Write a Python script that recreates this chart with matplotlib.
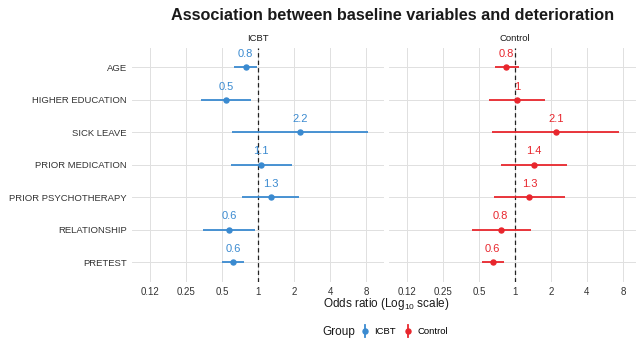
import matplotlib
matplotlib.use("Agg")
import matplotlib.pyplot as plt
import numpy as np
from matplotlib.legend_handler import HandlerBase

plt.rcParams['font.family'] = ['Liberation Sans', 'DejaVu Sans']
plt.rcParams['mathtext.fontset'] = 'custom'
plt.rcParams['mathtext.rm'] = 'Liberation Sans'
plt.rcParams['mathtext.it'] = 'Liberation Sans'
plt.rcParams['mathtext.bf'] = 'Liberation Sans:bold'

categories = ["AGE", "HIGHER EDUCATION", "SICK LEAVE", "PRIOR MEDICATION",
              "PRIOR PSYCHOTHERAPY", "RELATIONSHIP", "PRETEST"]

icbt_or = [0.79, 0.54, 2.26, 1.06, 1.28, 0.575, 0.62]
icbt_lo = [0.63, 0.335, 0.61, 0.59, 0.73, 0.35, 0.50]
icbt_hi = [0.98, 0.87, 8.3, 1.91, 2.21, 0.95, 0.77]
icbt_lab = ["0.8", "0.5", "2.2", "1.1", "1.3", "0.6", "0.6"]

ctrl_or = [0.84, 1.04, 2.19, 1.43, 1.32, 0.76, 0.65]
ctrl_lo = [0.68, 0.61, 0.64, 0.76, 0.67, 0.44, 0.53]
ctrl_hi = [1.07, 1.78, 7.45, 2.74, 2.62, 1.35, 0.81]
ctrl_lab = ["0.8", "1", "2.1", "1.4", "1.3", "0.8", "0.6"]

tick_vals = [0.125, 0.25, 0.5, 1, 2, 4, 8]
tick_labels = ["0.12", "0.25", "0.5", "1", "2", "4", "8"]

groups = ["ICBT", "Control"]
colors = {"ICBT": "#3a8ad0", "Control": "#e8262d"}

W, H = 636, 343
fig = plt.figure(figsize=(W / 100, H / 100), dpi=100)
fig.patch.set_facecolor("white")

pan_bottom = 1 - 281.5 / H
pan_h = 233.5 / H
lefts = [132 / W, 389 / W]
pan_w = 252 / W

data = {
    "ICBT": (icbt_or, icbt_lo, icbt_hi, icbt_lab),
    "Control": (ctrl_or, ctrl_lo, ctrl_hi, ctrl_lab),
}

y = np.arange(len(categories))
for i, g in enumerate(groups):
    ax = fig.add_axes([lefts[i], pan_bottom, pan_w, pan_h])
    orv, lo, hi, lab = data[g]
    c = colors[g]
    ax.set_xscale("log", base=2)
    ax.set_xlim(2 ** -3.5, 2 ** 3.5)
    ax.set_ylim(len(categories) - 0.4, -0.6)
    ax.set_xticks(tick_vals)
    ax.set_xticklabels(tick_labels)
    ax.xaxis.set_minor_locator(matplotlib.ticker.NullLocator())
    ax.set_yticks(y)
    if i == 0:
        ax.set_yticklabels(categories)
    else:
        ax.set_yticklabels([])
    ax.tick_params(axis="both", length=0, labelsize=7, colors="#333333")
    ax.tick_params(axis="y", pad=3.6, labelsize=6.8)
    ax.tick_params(axis="x", pad=4)
    ax.grid(True, color="#e0e0e0", linewidth=0.7)
    ax.set_axisbelow(True)
    for s in ax.spines.values():
        s.set_visible(False)
    ax.axvline(1, color="#222222", linestyle=(0, (3.5, 2.5)), linewidth=0.9, zorder=2)
    ax.hlines(y, lo, hi, color=c, linewidth=1.3, zorder=3)
    ax.plot(orv, y, "o", color=c, markersize=3.6, zorder=4)
    for xv, yv, t in zip(orv, y, lab):
        ax.annotate(t, (xv, yv), xytext=(0, 6), textcoords="offset points",
                    ha="center", va="bottom", color=c, fontsize=8)
    ax.set_title(g, fontsize=6.8, pad=5, color="#1a1a1a")

fig.text(393 / W, 1 - 16 / H, "Association between baseline variables and deterioration",
         ha="center", va="center", fontsize=11.7, fontweight="bold", color="#1a1a1a")
fig.text(386 / W, 1 - 307 / H, "Odds ratio (Log$_{\\mathregular{10}}$ scale)", ha="center",
         va="baseline", fontsize=8.5, color="#1a1a1a")


class VRange(HandlerBase):
    def create_artists(self, legend, orig_handle, xdescent, ydescent, width, height, fontsize, trans):
        cx = width / 2 - xdescent
        l = plt.Line2D([cx, cx], [-ydescent - 2, height - ydescent + 2], color=orig_handle.get_color(),
                       linewidth=1.3, transform=trans)
        p = plt.Line2D([cx], [height / 2 - ydescent], marker="o", markersize=3.6,
                       color=orig_handle.get_color(), transform=trans)
        return [l, p]


handles = [plt.Line2D([], [], color=colors[g], marker="o", linewidth=0) for g in groups]
fig.text(322 / W, 1 - 332 / H, "Group", ha="left", va="center", fontsize=8.5, color="#1a1a1a")
fig.legend(handles, groups, handler_map={plt.Line2D: VRange()}, loc="center left",
           bbox_to_anchor=(360 / W, 1 - 332 / H), ncol=2, frameon=False, fontsize=6.8,
           handlelength=1.0, handletextpad=0.5, columnspacing=0.8, borderpad=0, borderaxespad=0)

fig.savefig("out.png", dpi=100, facecolor="white")
